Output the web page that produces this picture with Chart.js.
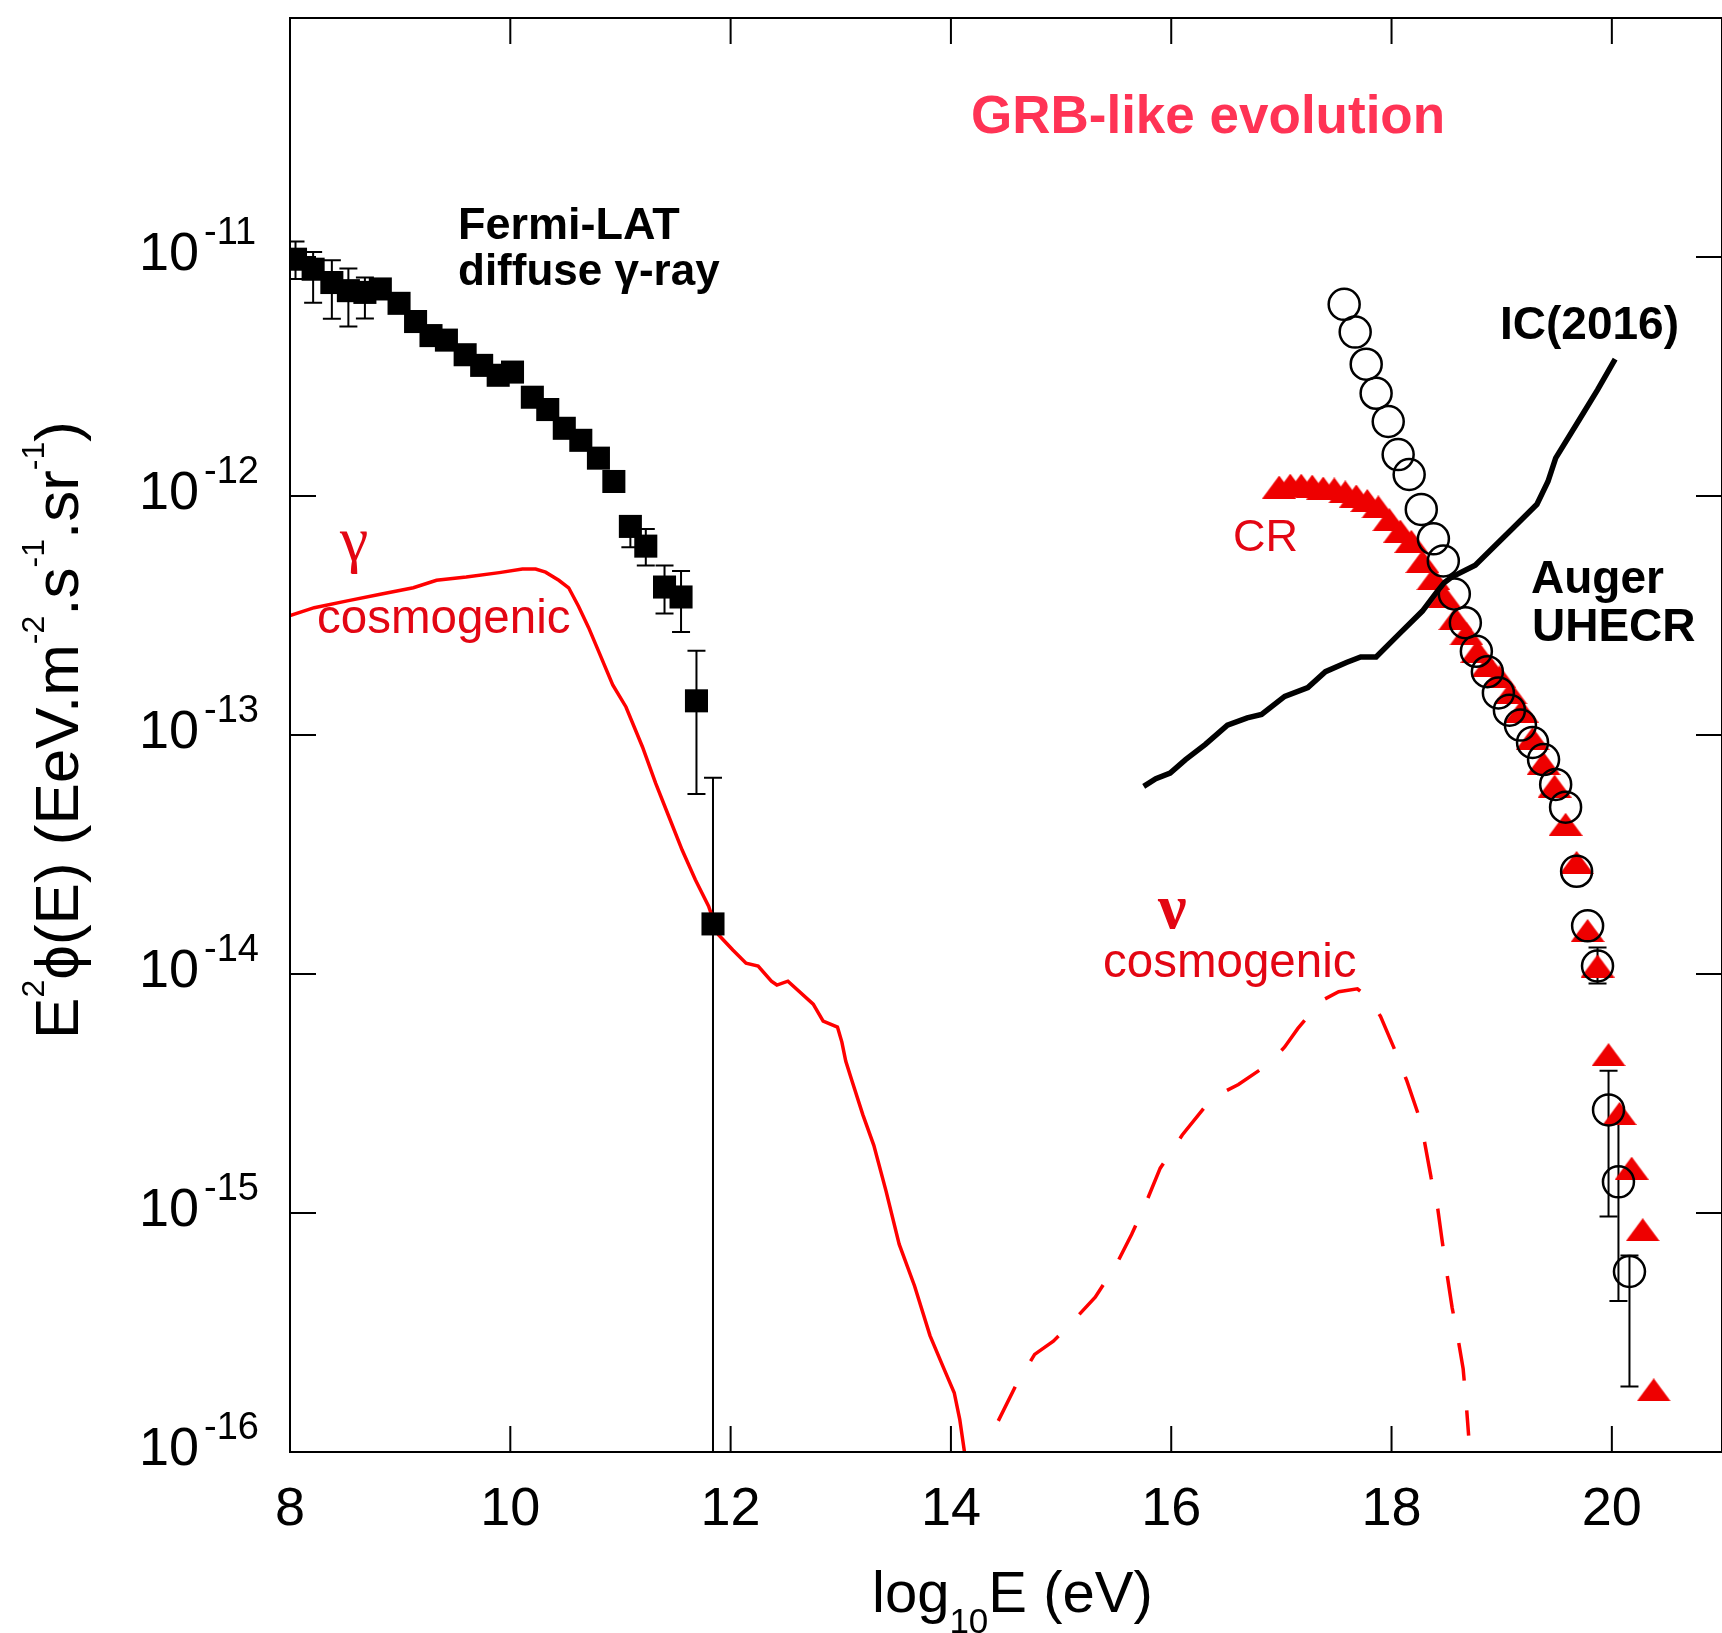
<!DOCTYPE html>
<html>
<head>
<meta charset="utf-8">
<title>GRB-like evolution</title>
<script src="https://cdn.jsdelivr.net/npm/chart.js@4.4.1/dist/chart.umd.min.js"></script>
<style>
  html, body { margin: 0; padding: 0; background: #fff; overflow: hidden; }
  #wrap { width: 1722px; height: 1633px; overflow: hidden; }
  canvas { display: block; }
</style>
</head>
<body>
<div id="wrap"><canvas id="chart" width="1740" height="1633"></canvas></div>
<script>
// x: log10(E/eV), y: E^2 phi(E) in EeV m^-2 s^-1 sr^-1

// Fermi-LAT diffuse gamma-ray (filled squares)
const fermiE = [8.05, 8.21, 8.38, 8.53, 8.68, 8.82, 8.99, 9.14, 9.28, 9.42, 9.59, 9.74, 9.89,
    10.02, 10.2, 10.34, 10.49, 10.64, 10.8, 10.94, 11.09, 11.23, 11.4, 11.55, 11.69, 11.84];
const fermiFlux = [9.79e-12, 8.89e-12, 7.82e-12, 7.23e-12, 7.11e-12, 7.35e-12, 6.40e-12, 5.37e-12,
    4.69e-12, 4.49e-12, 3.90e-12, 3.52e-12, 3.20e-12, 3.30e-12, 2.59e-12, 2.30e-12, 1.92e-12,
    1.71e-12, 1.44e-12, 1.15e-12, 7.46e-13, 6.17e-13, 4.16e-13, 3.78e-13, 1.39e-13, 1.62e-14];
const fermiHigh = [1.16e-11, 1.05e-11, 9.7e-12, 8.95e-12, 8.2e-12, null, null, null, null, null,
    null, null, null, null, null, null, null, null, null, null, 8.0e-13, 7.28e-13, 5.12e-13,
    4.85e-13, 2.25e-13, 6.62e-14];
const fermiLow = [8.09e-12, 6.43e-12, 5.51e-12, 5.12e-12, 5.53e-12, null, null, null, null, null,
    null, null, null, null, null, null, null, null, null, null, 6.1e-13, 5.12e-13, 3.22e-13,
    2.70e-13, 5.66e-14, 1e-17];

// cosmogenic gamma (solid red)
const gammaE = [8.0, 8.22, 8.52, 8.82, 9.12, 9.33, 9.6, 9.9, 10.11, 10.23, 10.32, 10.44, 10.53,
    10.62, 10.71, 10.8, 10.93, 11.05, 11.2, 11.32, 11.44, 11.56, 11.68, 11.8, 11.89, 12.02, 12.14,
    12.25, 12.37, 12.42, 12.52, 12.75, 12.84, 12.97, 13.01, 13.045, 13.1, 13.2, 13.3, 13.41, 13.53,
    13.67, 13.81, 13.94, 14.03, 14.08, 14.124, 14.15];
const gammaFlux = [3.16e-13, 3.41e-13, 3.64e-13, 3.88e-13, 4.13e-13, 4.44e-13, 4.58e-13, 4.78e-13,
    4.95e-13, 4.95e-13, 4.80e-13, 4.44e-13, 4.13e-13, 3.45e-13, 2.82e-13, 2.25e-13, 1.62e-13,
    1.31e-13, 8.91e-14, 6.27e-14, 4.55e-14, 3.30e-14, 2.48e-14, 1.92e-14, 1.46e-14, 1.26e-14,
    1.11e-14, 1.08e-14, 9.33e-15, 8.99e-15, 9.33e-15, 7.48e-15, 6.35e-15, 6.00e-15, 5.19e-15,
    4.32e-15, 3.59e-15, 2.58e-15, 1.92e-15, 1.24e-15, 7.41e-16, 4.95e-16, 3.07e-16, 2.21e-16,
    1.77e-16, 1.37e-16, 9.93e-17, 8.0e-17];

// cosmogenic neutrino (dashed red)
const nuE = [14.43, 14.6, 14.76, 14.93, 15.05, 15.31, 15.5, 15.64, 15.78, 15.9, 16.1, 16.33, 16.45,
    16.61, 16.88, 17.03, 17.15, 17.36, 17.52, 17.69, 17.79, 17.9, 18.04, 18.14, 18.24, 18.3, 18.36,
    18.42, 18.46, 18.5, 18.55, 18.6, 18.65, 18.675, 18.7];
const nuFlux = [1.35e-16, 1.94e-16, 2.56e-16, 2.91e-16, 3.30e-16, 4.44e-16, 6.07e-16, 8.13e-16,
    1.13e-15, 1.54e-15, 2.12e-15, 2.87e-15, 3.16e-15, 3.45e-15, 4.19e-15, 4.95e-15, 5.92e-15,
    7.71e-15, 8.43e-15, 8.67e-15, 7.94e-15, 6.65e-15, 4.69e-15, 3.56e-15, 2.61e-15, 1.98e-15,
    1.40e-15, 1.04e-15, 7.62e-16, 5.69e-16, 4.02e-16, 3.05e-16, 2.23e-16, 1.66e-16, 1.17e-16];

// IceCube 2016 limit (thick black)
const icE = [15.75, 15.86, 15.99, 16.13, 16.31, 16.51, 16.69, 16.82, 17.03, 17.24, 17.4, 17.59,
    17.72, 17.86, 18.07, 18.28, 18.41, 18.48, 18.55, 18.76, 18.9, 19.11, 19.32, 19.42, 19.49, 19.7,
    19.87, 20.03];
const icFlux = [6.10e-14, 6.56e-14, 6.93e-14, 7.89e-14, 9.14e-14, 1.10e-13, 1.18e-13, 1.22e-13,
    1.45e-13, 1.58e-13, 1.84e-13, 2.01e-13, 2.12e-13, 2.12e-13, 2.65e-13, 3.30e-13, 3.96e-13,
    4.35e-13, 4.59e-13, 5.13e-13, 5.94e-13, 7.40e-13, 9.23e-13, 1.15e-12, 1.44e-12, 2.07e-12,
    2.78e-12, 3.74e-12];

// Auger UHECR (open circles)
const augerE = [17.57, 17.67, 17.77, 17.86, 17.97, 18.06, 18.16, 18.27, 18.38, 18.47, 18.57, 18.67,
    18.77, 18.87, 18.97, 19.07, 19.17, 19.28, 19.38, 19.49, 19.58, 19.68, 19.78, 19.87, 19.97,
    20.06, 20.16];
const augerFlux = [6.34e-12, 4.85e-12, 3.56e-12, 2.69e-12, 2.05e-12, 1.49e-12, 1.23e-12, 8.79e-13,
    6.62e-13, 5.35e-13, 3.89e-13, 2.95e-13, 2.24e-13, 1.84e-13, 1.50e-13, 1.27e-13, 1.10e-13,
    9.31e-14, 7.89e-14, 6.21e-14, 4.99e-14, 2.69e-14, 1.59e-14, 1.08e-14, 2.70e-15, 1.35e-15,
    5.69e-16];
const augerHigh = [null, null, null, null, null, null, null, null, null, null, null, null, null,
    null, null, null, null, null, null, null, null, null, null, 1.29e-14, 3.94e-15, 2.38e-15, 6.64e-16];
const augerLow = [null, null, null, null, null, null, null, null, null, null, null, null, null,
    null, null, null, null, null, null, null, null, null, null, 9.12e-15, 9.68e-16, 4.28e-16, 1.88e-16];

// propagated cosmic rays (red triangles)
const crE = [16.98, 17.08, 17.18, 17.28, 17.38, 17.48, 17.58, 17.68, 17.78, 17.88, 17.98, 18.08,
    18.18, 18.28, 18.38, 18.48, 18.58, 18.68, 18.78, 18.88, 18.98, 19.08, 19.18, 19.28, 19.38,
    19.48, 19.58, 19.68, 19.78, 19.87, 19.97, 20.07, 20.18, 20.28, 20.38];
const crFlux = [1.09e-12, 1.11e-12, 1.11e-12, 1.10e-12, 1.08e-12, 1.07e-12, 1.04e-12, 1.00e-12,
    9.57e-13, 9.00e-13, 7.96e-13, 7.13e-13, 6.46e-13, 5.32e-13, 4.51e-13, 3.79e-13, 3.07e-13,
    2.65e-13, 2.24e-13, 1.96e-13, 1.75e-13, 1.50e-13, 1.26e-13, 9.66e-14, 7.60e-14, 6.11e-14,
    4.23e-14, 2.93e-14, 1.52e-14, 1.08e-14, 4.60e-15, 2.61e-15, 1.54e-15, 8.51e-16, 1.82e-16];

// axis ticks
const xTickValues = [8, 10, 12, 14, 16, 18, 20];
const xTickLabels = ['8', '10', '12', '14', '16', '18', '20'];
const yTickValues = [1e-11, 1e-12, 1e-13, 1e-14, 1e-15, 1e-16];
const yTickExponents = ['-11', '-12', '-13', '-14', '-15', '-16'];

const SANS = '"Liberation Sans", Arial, Helvetica, sans-serif';
const SERIF = '"Liberation Serif", "Times New Roman", serif';
const RED_TEXT = '#e30613';

function pairs(xs, ys) {
    return xs.map((x, i) => ({ x: x, y: ys[i] }));
}

function triangleMark() {
    const c = document.createElement('canvas');
    c.width = 34;
    c.height = 23;
    const g = c.getContext('2d');
    g.fillStyle = '#ee0000';
    g.beginPath();
    g.moveTo(17, 0);
    g.lineTo(34, 23);
    g.lineTo(0, 23);
    g.closePath();
    g.fill();
    return c;
}

// draws a run of text pieces, some raised or lowered
function drawRich(ctx, x, y, parts) {
    parts.forEach((p) => {
        ctx.font = p.font;
        x += p.gap || 0;
        ctx.fillText(p.text, x, y + (p.dy || 0));
        x += ctx.measureText(p.text).width;
    });
    return x;
}

function richWidth(ctx, parts) {
    let w = 0;
    parts.forEach((p) => {
        ctx.font = p.font;
        w += (p.gap || 0) + ctx.measureText(p.text).width;
    });
    return w;
}

const errorBars = {
    id: 'errorBars',
    beforeDatasetsDraw(chart) {
        const ctx = chart.ctx;
        const xs = chart.scales.x;
        const ys = chart.scales.y;
        const a = chart.chartArea;
        ctx.save();
        ctx.beginPath();
        ctx.rect(a.left, a.top, a.right - a.left, a.bottom - a.top);
        ctx.clip();
        ctx.strokeStyle = '#000';
        ctx.lineWidth = 2;
        [[fermiE, fermiLow, fermiHigh], [augerE, augerLow, augerHigh]].forEach(([ex, lo, hi]) => {
            ex.forEach((e, i) => {
                if (lo[i] == null || hi[i] == null) {
                    return;
                }
                const px = xs.getPixelForValue(e);
                const y1 = ys.getPixelForValue(hi[i]);
                const y2 = ys.getPixelForValue(lo[i]);
                ctx.beginPath();
                ctx.moveTo(px, y1);
                ctx.lineTo(px, y2);
                ctx.moveTo(px - 9, y1);
                ctx.lineTo(px + 9, y1);
                ctx.moveTo(px - 9, y2);
                ctx.lineTo(px + 9, y2);
                ctx.stroke();
            });
        });
        ctx.restore();
    }
};

const frame = {
    id: 'frame',
    afterDatasetsDraw(chart) {
        const ctx = chart.ctx;
        const xs = chart.scales.x;
        const ys = chart.scales.y;
        const a = chart.chartArea;
        ctx.save();
        ctx.strokeStyle = '#000';
        ctx.lineWidth = 2;
        ctx.strokeRect(a.left, a.top, a.right - a.left, a.bottom - a.top);

        // inward ticks on all four sides
        ctx.beginPath();
        xTickValues.forEach((v) => {
            const px = xs.getPixelForValue(v);
            ctx.moveTo(px, a.bottom);
            ctx.lineTo(px, a.bottom - 26);
            ctx.moveTo(px, a.top);
            ctx.lineTo(px, a.top + 26);
        });
        yTickValues.forEach((v) => {
            const py = ys.getPixelForValue(v);
            ctx.moveTo(a.left, py);
            ctx.lineTo(a.left + 26, py);
            ctx.moveTo(a.right, py);
            ctx.lineTo(a.right - 26, py);
        });
        ctx.stroke();

        ctx.fillStyle = '#000';
        ctx.textBaseline = 'alphabetic';

        // x tick labels
        ctx.font = '54px ' + SANS;
        ctx.textAlign = 'center';
        xTickValues.forEach((v, i) => {
            ctx.fillText(xTickLabels[i], xs.getPixelForValue(v), a.bottom + 73);
        });

        // y tick labels, 10 with a raised exponent
        ctx.textAlign = 'left';
        yTickValues.forEach((v, i) => {
            const py = ys.getPixelForValue(v);
            drawRich(ctx, 139, py + 13, [
                { text: '10', font: '54px ' + SANS },
                { text: yTickExponents[i], font: '38px ' + SANS, dy: -26, gap: 5 }
            ]);
        });

        // y axis title
        const yTitle = [
            { text: 'E', font: '62px ' + SANS },
            { text: '2', font: '32px ' + SANS, dy: -34 },
            { text: '\u03d5(E) (EeV.m', font: '62px ' + SANS },
            { text: '-2', font: '32px ' + SANS, dy: -34 },
            { text: '.s', font: '62px ' + SANS },
            { text: '-1', font: '32px ' + SANS, dy: -34 },
            { text: '.sr', font: '62px ' + SANS },
            { text: '-1', font: '32px ' + SANS, dy: -34 },
            { text: ')', font: '62px ' + SANS }
        ];
        ctx.save();
        ctx.translate(78, 730);
        ctx.rotate(-Math.PI / 2);
        drawRich(ctx, -richWidth(ctx, yTitle) / 2, 0, yTitle);
        ctx.restore();

        // x axis title
        drawRich(ctx, 872, 1612, [
            { text: 'log', font: '58px ' + SANS },
            { text: '10', font: '35px ' + SANS, dy: 21 },
            { text: 'E (eV)', font: '58px ' + SANS }
        ]);

        // panel title
        ctx.fillStyle = '#ff3355';
        ctx.font = 'bold 53px ' + SANS;
        ctx.fillText('GRB-like evolution', 971, 133);

        // black annotations
        ctx.fillStyle = '#000';
        ctx.font = 'bold 45px ' + SANS;
        ctx.fillText('Fermi-LAT', 458, 239);
        ctx.font = 'bold 44px ' + SANS;
        ctx.fillText('diffuse \u03b3-ray', 458, 285);
        ctx.font = 'bold 46px ' + SANS;
        ctx.fillText('IC(2016)', 1500, 339);
        ctx.fillText('Auger', 1531, 593);
        ctx.fillText('UHECR', 1532, 641);

        // red annotations
        ctx.fillStyle = RED_TEXT;
        ctx.font = '64px ' + SERIF;
        ctx.fillText('\u03b3', 340, 560);
        ctx.font = 'bold 64px ' + SERIF;
        ctx.fillText('\u03bd', 1158, 928);
        ctx.font = '47.5px ' + SANS;
        ctx.fillText('cosmogenic', 317, 633);
        ctx.fillText('cosmogenic', 1103, 977);
        ctx.font = '45px ' + SANS;
        ctx.fillText('CR', 1233, 551);
        ctx.restore();
    }
};

const ctx = document.getElementById('chart').getContext('2d');
new Chart(ctx, {
    type: 'scatter',
    data: {
        datasets: [
            {
                label: 'Auger UHECR',
                data: pairs(augerE, augerFlux),
                pointStyle: 'circle',
                pointRadius: 15.5,
                borderColor: '#000',
                borderWidth: 2.5,
                backgroundColor: 'rgba(0,0,0,0)',
                showLine: false,
                order: 1
            },
            {
                label: 'Fermi-LAT diffuse',
                data: pairs(fermiE, fermiFlux),
                pointStyle: 'rect',
                pointRadius: 16.3,
                backgroundColor: '#000',
                borderWidth: 0,
                showLine: false,
                order: 2
            },
            {
                label: 'IC(2016)',
                data: pairs(icE, icFlux),
                showLine: true,
                borderColor: '#000',
                borderWidth: 5.5,
                pointRadius: 0,
                order: 3
            },
            {
                label: 'CR',
                data: pairs(crE, crFlux),
                pointStyle: triangleMark(),
                pointRadius: 16,
                showLine: false,
                order: 4
            },
            {
                label: 'gamma cosmogenic',
                data: pairs(gammaE, gammaFlux),
                showLine: true,
                borderColor: '#ff0000',
                borderWidth: 3.5,
                pointRadius: 0,
                order: 5
            },
            {
                label: 'nu cosmogenic',
                data: pairs(nuE, nuFlux),
                showLine: true,
                borderColor: '#ff0000',
                borderWidth: 3.5,
                borderDash: [38, 30],
                pointRadius: 0,
                order: 6
            }
        ]
    },
    options: {
        responsive: false,
        animation: false,
        devicePixelRatio: 1,
        events: [],
        layout: { padding: { left: 290, top: 11, right: 13, bottom: 181 } },
        plugins: {
            legend: { display: false },
            tooltip: { enabled: false },
            title: { display: false }
        },
        elements: { line: { tension: 0 } },
        scales: {
            x: { type: 'linear', min: 8, max: 21, display: false },
            y: { type: 'logarithmic', min: 1e-16, max: 1e-10, display: false }
        }
    },
    plugins: [errorBars, frame]
});
</script>
</body>
</html>
